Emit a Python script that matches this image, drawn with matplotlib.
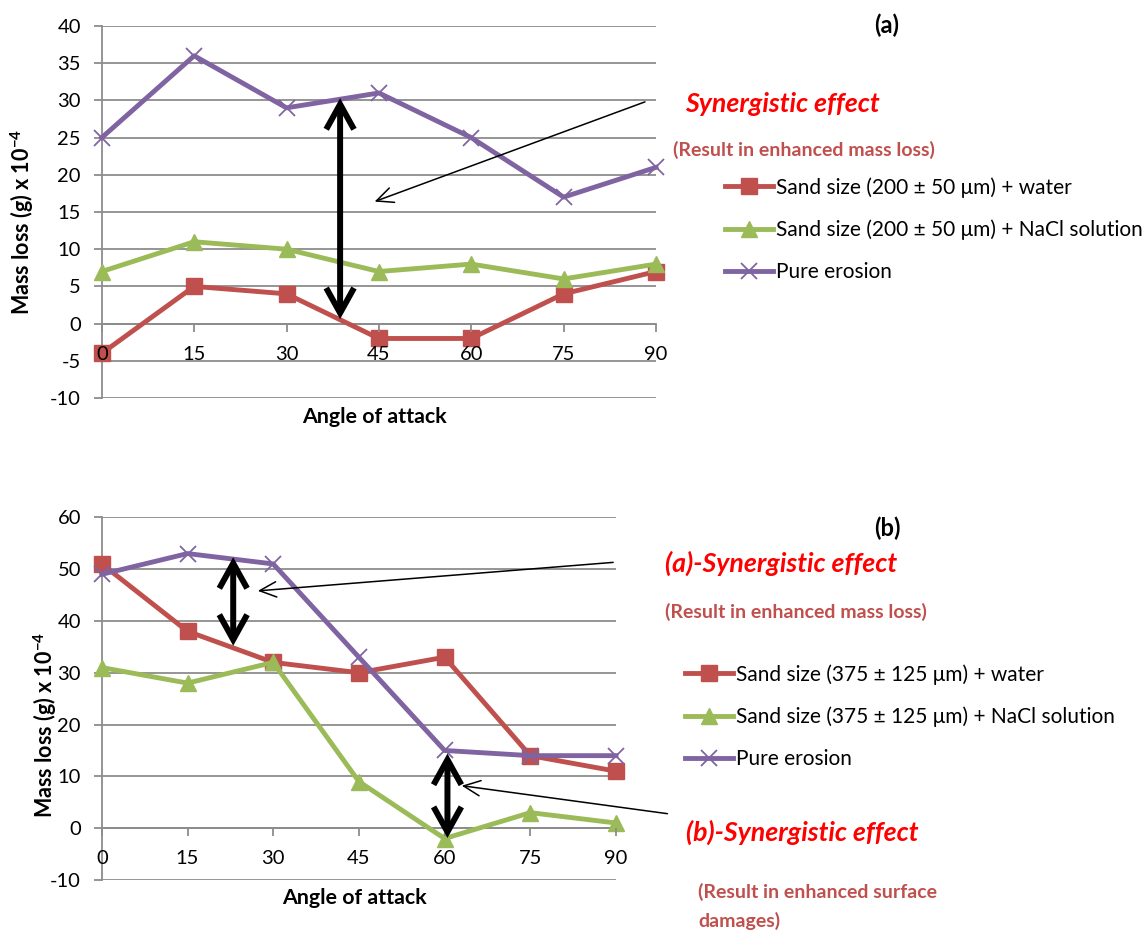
import matplotlib
matplotlib.use('Agg')
import matplotlib.pyplot as plt

plt.rcParams['font.family'] = ['Lato', 'DejaVu Sans']
plt.rcParams['axes.unicode_minus'] = False
plt.rcParams['mathtext.fontset'] = 'custom'
plt.rcParams['mathtext.rm'] = 'Lato'
plt.rcParams['mathtext.bf'] = 'Lato:bold'
plt.rcParams['mathtext.it'] = 'Lato:italic'

# ---------------- data ----------------
angles = [0, 15, 30, 45, 60, 75, 90]

a_water = [-4, 5, 4, -2, -2, 4, 7]
a_nacl = [7, 11, 10, 7, 8, 6, 8]
a_pure = [25, 36, 29, 31, 25, 17, 21]

b_water = [51, 38, 32, 30, 33, 14, 11]
b_nacl = [31, 28, 32, 9, -2, 3, 1]
b_pure = [49, 53, 51, 33, 15, 14, 14]

a_labels = ['Sand size (200 ± 50 μm) + water',
            'Sand size (200 ± 50 μm) + NaCl solution',
            'Pure erosion']
b_labels = ['Sand size (375 ± 125 μm) + water',
            'Sand size (375 ± 125 μm) + NaCl solution',
            'Pure erosion']

a_yticks = list(range(-10, 41, 5))
b_yticks = list(range(-10, 61, 10))

RED = '#C0504D'
GREEN = '#9BBB59'
PURPLE = '#8064A2'
GRID = '#8C8C8C'
ROSE = '#C0504D'

W, H = 1142, 931
fig = plt.figure(figsize=(W / 100, H / 100), dpi=100)


def px(l, t, r, b):
    return [l / W, 1 - b / H, (r - l) / W, (b - t) / H]


def fx(x):
    return x / W


def fy(y):
    return 1 - y / H


ax1 = fig.add_axes(px(101.8, 26, 656, 398))
ax2 = fig.add_axes(px(101.8, 517.3, 616, 880))


def style(ax, yticks):
    ax.set_xlim(0, 90)
    ax.set_ylim(yticks[0], yticks[-1])
    ax.set_yticks(yticks)
    ax.set_xticks(angles)
    ax.set_xticklabels([str(a) for a in angles])
    ax.grid(axis='y', color=GRID, lw=1.3, zorder=0)
    ax.set_axisbelow(True)
    for s in ['top', 'right']:
        ax.spines[s].set_visible(False)
    ax.spines['left'].set_color(GRID)
    ax.spines['left'].set_linewidth(1.3)
    ax.spines['bottom'].set_position(('data', 0))
    ax.spines['bottom'].set_color(GRID)
    ax.spines['bottom'].set_linewidth(1.3)
    ax.tick_params(axis='y', direction='out', length=6, width=1.3, color=GRID,
                   labelsize=14.5, pad=9)
    ax.tick_params(axis='x', direction='out', length=6, width=1.3, color=GRID,
                   labelsize=14.5, pad=10)
    ax.xaxis.set_zorder(5)


def plot_series(ax, water, nacl, pure, labels):
    l1, = ax.plot(angles, water, color=RED, lw=3.5, marker='s', ms=11,
                  mec=RED, mfc=RED, clip_on=False, zorder=3, label=labels[0])
    l2, = ax.plot(angles, nacl, color=GREEN, lw=3.5, marker='^', ms=12,
                  mec=GREEN, mfc=GREEN, clip_on=False, zorder=3, label=labels[1])
    l3, = ax.plot(angles, pure, color=PURPLE, lw=3.5, marker='x', ms=12,
                  mew=1.3, mec=PURPLE, clip_on=False, zorder=4, label=labels[2])
    return [l1, l2, l3]


style(ax1, a_yticks)
style(ax2, b_yticks)
h1 = plot_series(ax1, a_water, a_nacl, a_pure, a_labels)
h2 = plot_series(ax2, b_water, b_nacl, b_pure, b_labels)

ylab = r'Mass loss (g) x 10$^{\mathbf{-4}}$'
fig.text(fx(22), fy(222), ylab, rotation=90, ha='center', va='center',
         fontsize=15.5, fontweight='bold')
fig.text(fx(45), fy(725), ylab, rotation=90, ha='center', va='center',
         fontsize=15.5, fontweight='bold')
fig.text(fx(374), fy(417), 'Angle of attack', ha='center', va='center',
         fontsize=15.4, fontweight='bold')
fig.text(fx(354), fy(898), 'Angle of attack', ha='center', va='center',
         fontsize=15.4, fontweight='bold')

# double arrows
dbl = dict(arrowstyle='<->,head_length=1.8,head_width=1.0', lw=4.3,
           color='black', shrinkA=0, shrinkB=0, mutation_scale=10,
           joinstyle='miter', capstyle='butt')
thin = dict(arrowstyle='->,head_length=1.2,head_width=0.55', lw=1.1,
            color='black', shrinkA=0, shrinkB=0, mutation_scale=10)

ax1.annotate('', xy=(38.7, 30.3), xytext=(38.7, 0.6), arrowprops=dbl,
             annotation_clip=False, zorder=6)
ax1.annotate('', xy=(44.3, 16.4), xytext=(88.2, 29.8), arrowprops=thin,
             annotation_clip=False, zorder=6)

ax2.annotate('', xy=(23.0, 52.3), xytext=(23.0, 35.2), arrowprops=dbl,
             annotation_clip=False, zorder=6)
ax2.annotate('', xy=(60.5, 14.4), xytext=(60.5, -1.9), arrowprops=dbl,
             annotation_clip=False, zorder=6)
ax2.annotate('', xy=(27.3, 45.8), xytext=(89.5, 51.3), arrowprops=thin,
             annotation_clip=False, zorder=6)
ax2.annotate('', xy=(63.0, 8.2), xytext=(99.0, 2.8), arrowprops=thin,
             annotation_clip=False, zorder=6)

RED_SIZE = 19.3
ROSE_SIZE = 14
# annotations, top
fig.text(fx(887), fy(25), '(a)', ha='center', va='center', fontsize=17,
         fontweight='bold')
fig.text(fx(685), fy(104), 'Synergistic effect', ha='left', va='center',
         fontsize=RED_SIZE, fontweight='bold', style='italic', color='#FF0000')
fig.text(fx(673), fy(150), '(Result in enhanced mass loss)', ha='left',
         va='center', fontsize=ROSE_SIZE, fontweight='bold', color=ROSE)

# annotations, bottom
fig.text(fx(887), fy(528), '(b)', ha='center', va='center', fontsize=17,
         fontweight='bold')
fig.text(fx(665), fy(563), '(a)-Synergistic effect', ha='left', va='center',
         fontsize=RED_SIZE, fontweight='bold', style='italic', color='#FF0000')
fig.text(fx(665), fy(612), '(Result in enhanced mass loss)', ha='left',
         va='center', fontsize=ROSE_SIZE, fontweight='bold', color=ROSE)
fig.text(fx(686), fy(832), '(b)-Synergistic effect', ha='left', va='center',
         fontsize=RED_SIZE, fontweight='bold', style='italic', color='#FF0000')
fig.text(fx(698), fy(892), '(Result in enhanced surface', ha='left',
         va='center', fontsize=ROSE_SIZE, fontweight='bold', color=ROSE)
fig.text(fx(698), fy(921), 'damages)', ha='left',
         va='center', fontsize=ROSE_SIZE, fontweight='bold', color=ROSE)

leg_kw = dict(loc='center left', bbox_transform=fig.transFigure, frameon=False,
              fontsize=15, handlelength=2.3, handletextpad=0.15,
              labelspacing=1.05, borderaxespad=0, borderpad=0, numpoints=1)
ax1.legend(h1, a_labels, bbox_to_anchor=(fx(725), fy(229.5)), **leg_kw)
ax2.legend(h2, b_labels, bbox_to_anchor=(fx(685), fy(716.5)), **leg_kw)

fig.savefig('out.png', dpi=100)
